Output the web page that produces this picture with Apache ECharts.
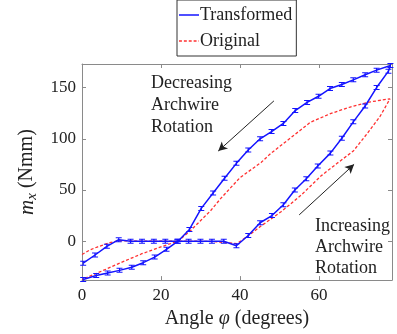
<!DOCTYPE html>
<html>
<head>
<meta charset="utf-8">
<script src="https://cdn.jsdelivr.net/npm/echarts@6/dist/echarts.min.js"></script>
<style>
  html, body { margin: 0; padding: 0; background: #fff; }
  #chart { width: 397px; height: 334px; }
</style>
</head>
<body>
<div id="chart"></div>
<script>
// angle (deg), moment m_x (Nmm)
const transformed = [
  [0.3, -21.5], [3.3, -13.5], [6.3, -5], [9.3, 1.5], [12.3, 0], [15.2, 0], [18.2, 0],
  [21.1, 0], [24.1, 0], [27.0, 0], [30.0, 0], [32.9, 0], [35.9, 0], [39.1, -4.5],
  [42.1, 5.5], [45.1, 18], [48.1, 25], [51.0, 35.5], [53.9, 50], [56.8, 61],
  [59.7, 73.5], [62.9, 86], [65.8, 100.5], [68.7, 116.5], [71.7, 132], [74.6, 150],
  [77.6, 166], [78.1, 171.5],
  [74.6, 167], [71.7, 162.5], [68.7, 157.5], [65.8, 153], [62.8, 149], [59.9, 141.5],
  [57.0, 135.5], [54.0, 127.5], [51.0, 115], [48.0, 107], [45.1, 100], [42.1, 89],
  [39.1, 76], [36.1, 61.5], [33.2, 47], [30.2, 32], [27.2, 11.5], [24.3, 0],
  [21.4, -8], [18.4, -15.5], [15.5, -21], [12.6, -25.5], [9.5, -28.5], [6.5, -31],
  [3.6, -33.5], [0.3, -37.5]
];

const original = [
  [0, -13], [2, -8.5], [4, -5.5], [7, -1.5], [9.5, 0.5], [15, 0], [20, 0], [25, 0],
  [30, 0], [33, -0.3], [36, -1.2], [39.2, -2.5], [42, 5], [45.4, 15], [50.5, 29],
  [55.5, 45], [60.6, 64], [64.6, 76], [68.7, 88], [72.2, 105], [75.5, 122], [78, 139],
  [73, 136], [67.9, 131], [62.9, 124.5], [57.8, 116], [52.7, 100.5], [47.6, 85],
  [45.4, 77], [40, 62], [37.6, 52], [35.2, 42], [32.5, 29.5], [30, 20], [27.4, 10],
  [24.3, 0], [20, -5.5], [15, -12.5], [10, -20.7], [5, -29.2], [0, -37.5]
];

const xTicks = [0, 20, 40, 60];
const yTicks = [0, 50, 100, 150];

// annotation arrows in data coords: [from, to]
const decreasingArrow = [[48.6, 137], [34.5, 88]];
const increasingArrow = [[55.0, 25.7], [68.9, 75]];

const serif = "'Liberation Serif', 'Times New Roman', serif";
const boxColor = '#8a8a8a';
const blue = '#1414ff';
const red = '#ff3030';

const chart = echarts.init(document.getElementById('chart'));

function boxAxis(extra) {
  return Object.assign({
    type: 'value',
    axisLine: {show: true, onZero: false, lineStyle: {color: boxColor, width: 1}},
    splitLine: {show: false}
  }, extra);
}

const xRange = {min: 0, max: 78.5};
const yRange = {min: -38, max: 173};

const solidIcon = 'path://M0,0H20V1.5H0Z';
const dashIcon = 'path://M0,0H3V1.5H0Z M5,0H8V1.5H5Z M10,0H13V1.5H10Z M15,0H18V1.5H15Z M20,0H20.5V1.5H20Z';

const option = {
  animation: false,
  backgroundColor: '#fff',
  grid: {left: 82, right: 5, top: 64, bottom: 49},
  legend: {
    data: [
      {name: 'Transformed', icon: solidIcon, itemStyle: {color: blue}},
      {name: 'Original', icon: dashIcon, itemStyle: {color: red}}
    ],
    orient: 'vertical',
    left: 177,
    top: 0,
    padding: [6, 4, 6, 2],
    itemWidth: 20,
    itemHeight: 1.5,
    itemGap: 8,
    borderColor: '#333',
    borderWidth: 1,
    textStyle: {fontFamily: serif, fontSize: 18, color: '#222', padding: [0, 0, 0, -4]}
  },
  xAxis: [
    boxAxis(Object.assign({
      position: 'bottom',
      axisTick: {inside: true, length: 4, customValues: xTicks, lineStyle: {color: boxColor}},
      axisLabel: {customValues: xTicks, margin: 7, fontFamily: serif, fontSize: 17, color: '#222'},
      name: 'Angle {i|φ} (degrees)',
      nameLocation: 'middle',
      nameGap: 28,
      nameTextStyle: {
        fontFamily: serif, fontSize: 20, color: '#222',
        rich: {i: {fontFamily: serif, fontSize: 20, fontStyle: 'italic', color: '#222'}}
      }
    }, xRange)),
    boxAxis(Object.assign({
      position: 'top',
      axisTick: {inside: true, length: 4, customValues: xTicks, lineStyle: {color: boxColor}},
      axisLabel: {show: false}
    }, xRange))
  ],
  yAxis: [
    boxAxis(Object.assign({
      position: 'left',
      axisTick: {inside: true, length: 4, customValues: yTicks, lineStyle: {color: boxColor}},
      axisLabel: {customValues: yTicks, margin: 6, fontFamily: serif, fontSize: 17, color: '#222'},
      name: '{i|m}{s|x} (Nmm)',
      nameLocation: 'middle',
      nameRotate: 90,
      nameGap: 40,
      nameTextStyle: {
        fontFamily: serif, fontSize: 20, color: '#222',
        rich: {
          i: {fontFamily: serif, fontSize: 21, fontStyle: 'italic', color: '#222', lineHeight: 22},
          s: {fontFamily: serif, fontSize: 15, fontStyle: 'italic', color: '#222', padding: [10, 0, 0, 0]}
        }
      }
    }, yRange)),
    boxAxis(Object.assign({
      position: 'right',
      axisTick: {inside: true, length: 4, customValues: yTicks, lineStyle: {color: boxColor}},
      axisLabel: {show: false}
    }, yRange))
  ],
  series: [
    {
      name: 'Original',
      type: 'line',
      data: original,
      symbol: 'none',
      z: 2,
      lineStyle: {color: red, width: 1.3, type: [3, 2]},
      itemStyle: {color: red},
      markLine: {
        silent: true,
        symbol: ['none', 'arrow'],
        symbolSize: [7, 9],
        label: {show: false},
        lineStyle: {color: '#222', width: 1, type: 'solid'},
        data: [
          [{coord: decreasingArrow[0]}, {coord: decreasingArrow[1]}],
          [{coord: increasingArrow[0]}, {coord: increasingArrow[1]}]
        ]
      }
    },
    {
      name: 'Transformed',
      type: 'line',
      data: transformed,
      symbol: 'none',
      z: 3,
      lineStyle: {color: blue, width: 1.5},
      itemStyle: {color: blue}
    },
    {
      type: 'scatter',
      data: transformed,
      z: 4,
      symbol: 'path://M0,0H6V1.2H3.6V4.8H6V6H0V4.8H2.4V1.2H0Z',
      symbolSize: [6, 5],
      itemStyle: {color: blue, opacity: 1}
    }
  ],
  graphic: [
    {
      type: 'text',
      left: 151,
      top: 72,
      style: {
        text: 'Decreasing\nArchwire\nRotation',
        font: '18px ' + serif,
        lineHeight: 22,
        fill: '#222'
      }
    },
    {
      type: 'text',
      left: 315,
      top: 216,
      style: {
        text: 'Increasing\nArchwire\nRotation',
        font: '18px ' + serif,
        lineHeight: 21,
        fill: '#222'
      }
    }
  ]
};

chart.setOption(option);
</script>
</body>
</html>
